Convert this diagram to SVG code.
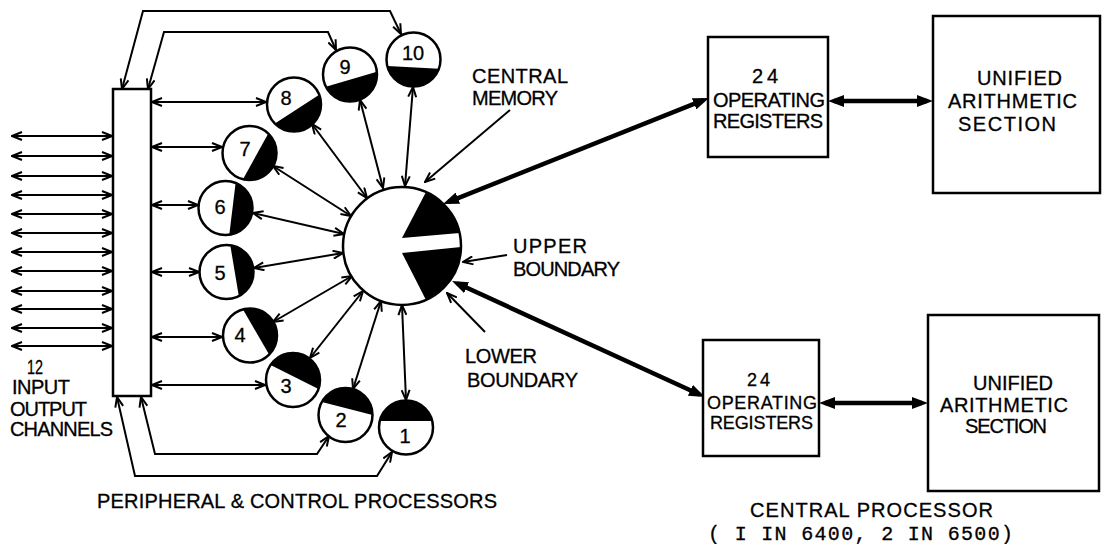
<svg xmlns="http://www.w3.org/2000/svg" width="1102" height="544" viewBox="0 0 1102 544">
<style>
  .ln{fill:none;stroke:#000;stroke-width:2;marker-start:url(#ah);marker-end:url(#ah)}
  .one{fill:none;stroke:#000;stroke-width:2;marker-end:url(#ah)}
  .thick{fill:none;stroke:#000;stroke-width:4.5;marker-start:url(#ahb);marker-end:url(#ahb)}
  .box{fill:#fff;stroke:#000;stroke-width:2.5}
  .pp{fill:#fff;stroke:#000;stroke-width:2.5}
  .blk{fill:#000;stroke:none}
  .t{font-family:"Liberation Sans",Arial,sans-serif;font-size:20px;fill:#000;stroke:#000;stroke-width:0.3}
  .s{font-size:18px}
  .n{font-family:"Liberation Sans",Arial,sans-serif;font-size:20px;fill:#000;stroke:#000;stroke-width:0.3;text-anchor:middle}
  .m{font-family:"Liberation Mono","Courier New",monospace;font-size:20px;fill:#000;stroke:#000;stroke-width:0.3}
</style>
<defs>
  <marker id="ah" viewBox="0 0 12 10" refX="11" refY="5" markerWidth="12" markerHeight="10" markerUnits="userSpaceOnUse" orient="auto-start-reverse">
    <path d="M1,1 L11,5 L1,9" fill="none" stroke="#000" stroke-width="2"/>
  </marker>
  <marker id="ahb" viewBox="0 0 16 12" refX="10" refY="6" markerWidth="16" markerHeight="12" markerUnits="userSpaceOnUse" orient="auto-start-reverse">
    <path d="M0,0 L16,6 L0,12 Z" fill="#000"/>
  </marker>
</defs>
<rect width="1102" height="544" fill="#fff"/>

<g id="connectors">
  <!-- input/output channels -->
  <line class="ln" x1="12" y1="136" x2="112" y2="136"/>
  <line class="ln" x1="12" y1="156" x2="112" y2="156"/>
  <line class="ln" x1="12" y1="176" x2="112" y2="176"/>
  <line class="ln" x1="12" y1="195" x2="112" y2="195"/>
  <line class="ln" x1="12" y1="214" x2="112" y2="214"/>
  <line class="ln" x1="12" y1="233" x2="112" y2="233"/>
  <line class="ln" x1="12" y1="252" x2="112" y2="252"/>
  <line class="ln" x1="12" y1="271" x2="112" y2="271"/>
  <line class="ln" x1="12" y1="291" x2="112" y2="291"/>
  <line class="ln" x1="12" y1="309" x2="112" y2="309"/>
  <line class="ln" x1="12" y1="328" x2="112" y2="328"/>
  <line class="ln" x1="12" y1="346" x2="112" y2="346"/>
  <!-- bus to processors -->
  <line class="ln" x1="152" y1="102" x2="266" y2="102"/>
  <line class="ln" x1="152" y1="147" x2="222" y2="147"/>
  <line class="ln" x1="152" y1="205" x2="198" y2="205"/>
  <line class="ln" x1="152" y1="272" x2="199" y2="272"/>
  <line class="ln" x1="152" y1="337" x2="222" y2="337"/>
  <line class="ln" x1="152" y1="385" x2="265" y2="385"/>
  <!-- loops -->
  <polyline class="ln" points="122,89 143,11 390,11 401,34"/>
  <polyline class="ln" points="148,89 164,32 328,32 336,50"/>
  <polyline class="ln" points="117,397 135,476 377,476 392,452"/>
  <polyline class="ln" points="141,397 155,454 317,454 329,436"/>
  <!-- spokes to central memory -->
  <line class="ln" x1="413" y1="87" x2="405" y2="186"/>
  <line class="ln" x1="360" y1="100" x2="383" y2="188"/>
  <line class="ln" x1="312" y1="124" x2="367" y2="198"/>
  <line class="ln" x1="273" y1="166" x2="351" y2="216"/>
  <line class="ln" x1="253" y1="213" x2="344" y2="234"/>
  <line class="ln" x1="254" y1="268" x2="343" y2="253"/>
  <line class="ln" x1="273" y1="322" x2="352" y2="276"/>
  <line class="ln" x1="310" y1="358" x2="363" y2="291"/>
  <line class="ln" x1="353" y1="389" x2="381" y2="301"/>
  <line class="ln" x1="402" y1="305" x2="406" y2="400"/>
  <!-- label pointers -->
  <line class="one" x1="510" y1="110" x2="425" y2="182"/>
  <line class="one" x1="507" y1="255" x2="463" y2="262"/>
  <line class="one" x1="485" y1="332" x2="447" y2="293"/>
  <!-- thick data paths -->
  <line class="thick" x1="448.6" y1="201.8" x2="703.4" y2="100.2"/>
  <line class="thick" x1="457.5" y1="283.5" x2="699.5" y2="394.5"/>
  <line class="thick" x1="834" y1="101" x2="927" y2="101"/>
  <line class="thick" x1="825" y1="403" x2="922" y2="403"/>
</g>

<g id="io-bus">
  <rect class="box" x="113" y="89" width="38" height="307"/>
</g>

<g id="io-label">
  <text class="t" x="27" y="374" textLength="16" lengthAdjust="spacingAndGlyphs">12</text>
  <text class="t" x="12" y="394" textLength="58">INPUT</text>
  <text class="t" x="10" y="416" textLength="77">OUTPUT</text>
  <text class="t" x="10" y="436" textLength="103">CHANNELS</text>
</g>

<g id="pp1">
  <circle class="pp" cx="406" cy="427.5" r="27"/>
  <path class="blk" d="M379.8,421 A27,27 0 0 1 432.2,421 Z"/>
  <text class="n" x="405" y="443">1</text>
</g>
<g id="pp2">
  <circle class="pp" cx="345.5" cy="415" r="27"/>
  <path class="blk" d="M321.9,401.9 A27,27 0 0 1 372.5,415 Z"/>
  <text class="n" x="341" y="427">2</text>
</g>
<g id="pp3">
  <circle class="pp" cx="293" cy="380" r="27"/>
  <path class="blk" d="M270.6,364.9 A27,27 0 0 1 318.5,389 Z"/>
  <text class="n" x="286" y="393">3</text>
</g>
<g id="pp4">
  <circle class="pp" cx="250" cy="335.5" r="27"/>
  <path class="blk" d="M243,309.4 A27,27 0 0 1 269.1,354.6 Z"/>
  <text class="n" x="240" y="342">4</text>
</g>
<g id="pp5">
  <circle class="pp" cx="226.5" cy="272" r="27"/>
  <path class="blk" d="M230.3,245.3 A27,27 0 0 1 238.8,296.1 Z"/>
  <text class="n" x="220" y="280">5</text>
</g>
<g id="pp6">
  <circle class="pp" cx="225.5" cy="208" r="27"/>
  <path class="blk" d="M235.6,183 A27,27 0 0 1 229.3,234.7 Z"/>
  <text class="n" x="220" y="214">6</text>
</g>
<g id="pp7">
  <circle class="pp" cx="249.5" cy="153" r="27"/>
  <path class="blk" d="M268.3,133.6 A27,27 0 0 1 243,179.2 Z"/>
  <text class="n" x="245" y="156">7</text>
</g>
<g id="pp8">
  <circle class="pp" cx="294" cy="104.5" r="27"/>
  <path class="blk" d="M319.2,94.8 A27,27 0 0 1 274.9,123.6 Z"/>
  <text class="n" x="286" y="105">8</text>
</g>
<g id="pp9">
  <circle class="pp" cx="350" cy="74.5" r="27"/>
  <path class="blk" d="M376.9,71.7 A27,27 0 0 1 325.9,86.8 Z"/>
  <text class="n" x="345" y="74">9</text>
</g>
<g id="pp10">
  <circle class="pp" cx="413.5" cy="59.5" r="27"/>
  <path class="blk" d="M438.9,68.7 A27,27 0 0 1 387.3,66 Z"/>
  <text class="n" x="413" y="60">10</text>
</g>

<g id="central-memory">
  <circle class="pp" cx="402" cy="246" r="59"/>
  <path class="blk" d="M402,238 L426,192.1 A59,59 0 0 1 459.5,233 Z"/>
  <path class="blk" d="M402,253 L461,247 A59,59 0 0 1 426,299.9 Z"/>
</g>

<g id="memory-labels">
  <text class="t" x="472" y="83" textLength="96">CENTRAL</text>
  <text class="t" x="472" y="105" textLength="86">MEMORY</text>
  <text class="t" x="513" y="253" textLength="74">UPPER</text>
  <text class="t" x="513" y="276" textLength="107">BOUNDARY</text>
  <text class="t" x="465" y="363" textLength="72">LOWER</text>
  <text class="t" x="467" y="387" textLength="111">BOUNDARY</text>
</g>

<g id="registers-1">
  <rect class="box" x="708" y="37" width="120" height="120"/>
  <text class="t" x="752" y="83" textLength="26">24</text>
  <text class="t" x="713" y="107" textLength="112">OPERATING</text>
  <text class="t" x="713" y="128" textLength="110">REGISTERS</text>
</g>
<g id="arith-1">
  <rect class="box" x="933" y="16" width="167" height="177"/>
  <text class="t" x="977" y="85" textLength="85">UNIFIED</text>
  <text class="t" x="948" y="108" textLength="129">ARITHMETIC</text>
  <text class="t" x="958" y="131" textLength="98">SECTION</text>
</g>
<g id="registers-2">
  <rect class="box" x="703" y="340" width="116" height="116"/>
  <text class="t s" x="747" y="386" textLength="23">24</text>
  <text class="t s" x="707" y="409" textLength="110">OPERATING</text>
  <text class="t s" x="710" y="429" textLength="103">REGISTERS</text>
</g>
<g id="arith-2">
  <rect class="box" x="928" y="315" width="171" height="176"/>
  <text class="t" x="973" y="390" textLength="80">UNIFIED</text>
  <text class="t" x="940" y="412" textLength="128">ARITHMETIC</text>
  <text class="t" x="965" y="433" textLength="82">SECTION</text>
</g>

<g id="captions">
  <text class="t" x="97" y="508" textLength="400">PERIPHERAL &amp; CONTROL PROCESSORS</text>
  <text class="t" x="750" y="517" textLength="243">CENTRAL  PROCESSOR</text>
  <text class="m" x="708" y="540" textLength="305">( I IN 6400, 2 IN 6500)</text>
</g>
</svg>
